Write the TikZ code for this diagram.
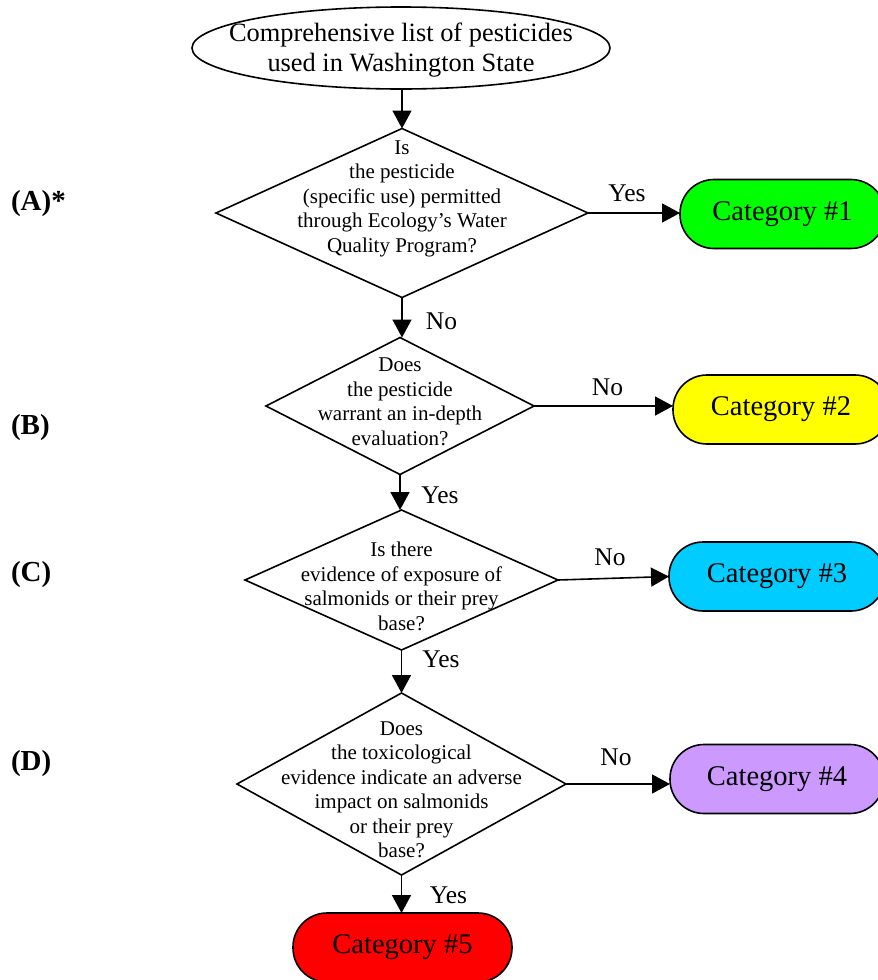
\documentclass[tikz,border=0pt]{standalone}
\usepackage{fontspec}
\setmainfont{Liberation Serif}
\usetikzlibrary{shapes.geometric,arrows.meta}
\begin{document}
\begin{tikzpicture}[x=1pt,y=-1pt,
  line width=1.6pt,
  every node/.style={inner sep=0pt,outer sep=0pt},
  dia/.style={draw,diamond,line width=1.6pt},
  diatext/.style={align=center,font=\fontsize{21}{24.5}\selectfont},
  cat/.style={draw,rectangle,rounded corners=34pt,minimum height=69pt,line width=1.6pt,font=\fontsize{28.5}{34}\selectfont},
  lab/.style={anchor=base,font=\fontsize{25.5}{30}\selectfont},
  side/.style={anchor=base west,font=\bfseries\fontsize{29}{34}\selectfont},
  arr/.style={-{Triangle[length=18pt,width=19pt]},line width=1.6pt}]
\useasboundingbox (0,0) rectangle (878,980);
\begin{scope}
\clip (0,0) rectangle (878,980);
% start
\node[draw,ellipse,minimum width=418pt,minimum height=82pt,line width=1.6pt] (E) at (401,48) {};
\node[align=center,font=\fontsize{26.4}{30}\selectfont] (Et) at (401,50) {Comprehensive list of pesticides\\used in Washington State};
% diamonds
\node[dia,minimum width=372pt,minimum height=169pt] (A) at (402,213) {};
\node[diatext] (At) at (402,198.5) {Is\\the pesticide\\(specific use) permitted\\through Ecology’s Water\\Quality Program?};
\node[dia,minimum width=268pt,minimum height=137pt] (B) at (400,406) {};
\node[diatext] (Bt) at (400,402) {Does\\the pesticide\\warrant an in-depth\\evaluation?};
\node[dia,minimum width=313pt,minimum height=140pt] (C) at (401.5,580) {};
\node[diatext] (Ct) at (401.5,586.5) {Is there\\evidence of exposure of\\salmonids or their prey\\base?};
\node[dia,minimum width=329pt,minimum height=182pt] (D) at (401.5,784) {};
\node[diatext] (Dt) at (401.5,790) {Does\\the toxicological\\evidence indicate an adverse\\impact on salmonids\\or their prey\\base?};
% categories
\node[cat,fill={rgb,255:red,0;green,255;blue,0},minimum width=205pt] (K1) at (782.5,214) {Category \#1};
\node[cat,fill={rgb,255:red,255;green,255;blue,0},minimum width=216pt] (K2) at (781,409.5) {Category \#2};
\node[cat,fill={rgb,255:red,0;green,204;blue,255},minimum width=216pt] (K3) at (777,576.5) {Category \#3};
\node[cat,fill={rgb,255:red,204;green,153;blue,255},minimum width=214pt] (K4) at (777,779) {Category \#4};
\node[cat,fill={rgb,255:red,255;green,0;blue,0},minimum width=219pt] (K5) at (402.5,947.5) {Category \#5};
% connectors
\draw[arr] (E.south -| A.north) -- (A.north);
\draw[arr] (A.south) -- (B.north -| A.south);
\draw[arr] (B.south) -- (C.north -| B.south);
\draw[arr] (C.south) -- (D.north -| C.south);
\draw[arr] (D.south) -- (K5.north -| D.south);
\draw[arr] (A.east) -- (A.east -| K1.west);
\draw[arr] (B.east) -- (B.east -| K2.west);
\draw[arr] (C.east) -- (K3.west);
\draw[arr] (D.east) -- (D.east -| K4.west);
% labels
\node[lab] (l1) at (627,201) {Yes};
\node[lab] (l2) at (441.5,329) {No};
\node[lab] (l3) at (607.5,395) {No};
\node[lab] (l4) at (440,503) {Yes};
\node[lab] (l5) at (610,565) {No};
\node[lab] (l6) at (441,667) {Yes};
\node[lab] (l7) at (616,765) {No};
\node[lab] (l8) at (448.5,903) {Yes};
% side labels
\node[side] (sA) at (11,210) {(A)*};
\node[side] (sB) at (11,434) {(B)};
\node[side] (sC) at (11,581) {(C)};
\node[side] (sD) at (11,770) {(D)};
\end{scope}
\end{tikzpicture}
\end{document}
